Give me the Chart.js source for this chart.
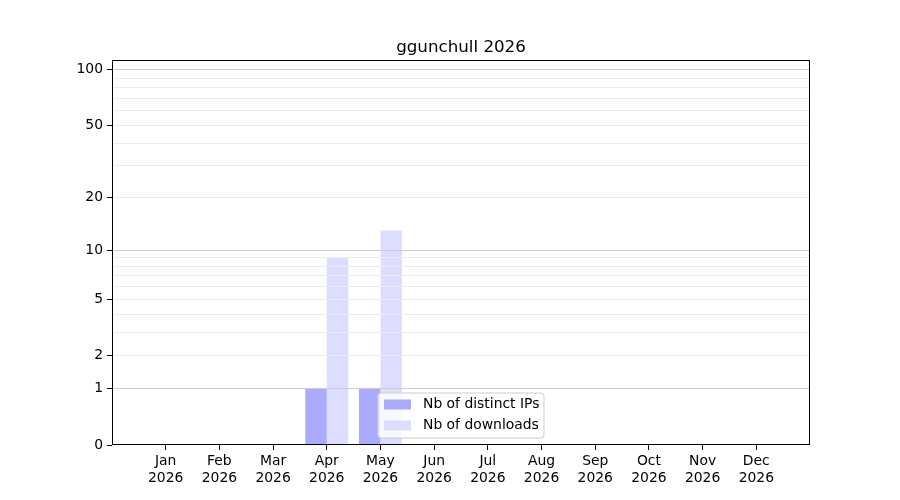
<!DOCTYPE html>
<html>
<head>
<meta charset="utf-8">
<title>ggunchull 2026</title>
<script src="https://cdn.jsdelivr.net/npm/chart.js@4.4.1/dist/chart.umd.min.js"></script>
<style>
  html, body { margin: 0; padding: 0; background: #fff; }
  #wrap { width: 900px; height: 500px; }
</style>
</head>
<body>
<div id="wrap"><canvas id="chart" width="900" height="500"></canvas></div>
<script>
const chartTitle = "ggunchull 2026";
const months = ["Jan", "Feb", "Mar", "Apr", "May", "Jun", "Jul", "Aug", "Sep", "Oct", "Nov", "Dec"];
const year = "2026";
const distinctIps = [0, 0, 0, 1, 1, 0, 0, 0, 0, 0, 0, 0];
const downloads = [0, 0, 0, 9, 13, 0, 0, 0, 0, 0, 0, 0];
const yLabelTicks = [0, 1, 2, 5, 10, 20, 50, 100];
const yMajorGrid = [1, 10, 100];
const yMinorGrid = [2, 3, 4, 5, 6, 7, 8, 9, 20, 30, 40, 50, 60, 70, 80, 90];
const yMax = 113;

const log1p = (v) => Math.log10(1 + v);

// y axis: log10(1 + v), so 0 sits on the bottom and decades above it
class Log1pScale extends Chart.Scale {
  determineDataLimits() {
    this.min = 0;
    this.max = this.options.max;
  }
  buildTicks() {
    const values = Array.from(new Set([...yLabelTicks, ...yMajorGrid, ...yMinorGrid])).sort((a, b) => a - b);
    return values.map((value) => ({ value, major: yMajorGrid.includes(value) }));
  }
  getLabelForValue(value) {
    return String(value);
  }
  configure() {
    super.configure();
    this._startValue = log1p(this.min);
    this._valueRange = log1p(this.max) - log1p(this.min);
  }
  getPixelForValue(value) {
    return this.getPixelForDecimal((log1p(value) - this._startValue) / this._valueRange);
  }
  getValueForPixel(pixel) {
    return Math.pow(10, this._startValue + this.getDecimalForPixel(pixel) * this._valueRange) - 1;
  }
}
Log1pScale.id = "log1p";
Log1pScale.defaults = {};
Chart.register(Log1pScale);

const framePlugin = {
  id: "frameAndLegend",
  afterDraw(chart) {
    const { ctx, chartArea } = chart;
    const l = Math.round(chartArea.left) + 0.5;
    const t = Math.round(chartArea.top) + 0.5;
    const r = Math.round(chartArea.right) - 0.5;
    const b = Math.round(chartArea.bottom) - 0.5;
    ctx.save();
    ctx.strokeStyle = "#000";
    ctx.lineWidth = 1;
    ctx.strokeRect(l, t, r - l, b - t);

    // legend box, placed like matplotlib "best"
    const boxX = chartArea.left + 266;
    const boxY = chartArea.bottom - 52;
    const boxW = 166;
    const boxH = 45;
    const rad = 3;
    ctx.beginPath();
    ctx.moveTo(boxX + rad, boxY);
    ctx.arcTo(boxX + boxW, boxY, boxX + boxW, boxY + boxH, rad);
    ctx.arcTo(boxX + boxW, boxY + boxH, boxX, boxY + boxH, rad);
    ctx.arcTo(boxX, boxY + boxH, boxX, boxY, rad);
    ctx.arcTo(boxX, boxY, boxX + boxW, boxY, rad);
    ctx.closePath();
    ctx.fillStyle = "rgba(255,255,255,0.8)";
    ctx.fill();
    ctx.strokeStyle = "#cccccc";
    ctx.stroke();

    ctx.font = "13.9px 'DejaVu Sans'";
    ctx.textBaseline = "middle";
    ctx.textAlign = "left";
    chart.data.datasets.forEach((ds, i) => {
      const cy = boxY + 11.5 + i * 21;
      ctx.fillStyle = ds.backgroundColor;
      ctx.fillRect(boxX + 6, cy - 5, 27, 10);
      ctx.fillStyle = "#000";
      ctx.fillText(ds.label, boxX + 45, cy);
    });
    ctx.restore();
  }
};

Chart.defaults.font.family = "'DejaVu Sans'";
Chart.defaults.font.size = 13.9;
Chart.defaults.color = "#000";

new Chart(document.getElementById("chart"), {
  type: "bar",
  data: {
    datasets: [
      {
        label: "Nb of distinct IPs",
        data: distinctIps.map((y, x) => ({ x, y })),
        backgroundColor: "#aaaaff",
        borderWidth: 0
      },
      {
        label: "Nb of downloads",
        data: downloads.map((y, x) => ({ x, y })),
        backgroundColor: "#ddddff",
        borderWidth: 0
      }
    ]
  },
  options: {
    responsive: false,
    animation: false,
    categoryPercentage: 0.8,
    barPercentage: 1,
    layout: { padding: { left: 0, right: 90, top: 0, bottom: 0 } },
    plugins: {
      legend: { display: false },
      tooltip: { enabled: false },
      title: {
        display: true,
        fullSize: false,
        text: chartTitle,
        font: { size: 16.7, weight: "normal" },
        color: "#000",
        padding: { top: 38, bottom: 2 }
      }
    },
    scales: {
      x: {
        type: "linear",
        min: -1,
        max: 12,
        offset: false,
        afterFit: (scale) => { scale.height = 55; },
        border: { display: false },
        grid: {
          offset: false,
          drawOnChartArea: false,
          drawTicks: true,
          tickLength: 5,
          tickColor: (ctx) => (ctx.tick && ctx.tick.value >= 0 && ctx.tick.value < months.length ? "#000" : "rgba(0,0,0,0)")
        },
        ticks: {
          stepSize: 1,
          autoSkip: false,
          maxRotation: 0,
          padding: 3,
          callback: (value) => (value >= 0 && value < months.length ? [months[value], year] : "")
        }
      },
      y: {
        type: "log1p",
        max: yMax,
        afterFit: (scale) => { scale.width = 112; },
        border: { display: false },
        grid: {
          z: 1,
          tickLength: 5,
          color: (ctx) => {
            const v = ctx.tick ? ctx.tick.value : 0;
            if (v === 0) return "rgba(0,0,0,0)";
            return yMajorGrid.includes(v) ? "#cccccc" : "#ececec";
          },
          tickColor: (ctx) => (ctx.tick && yLabelTicks.includes(ctx.tick.value) ? "#000" : "rgba(0,0,0,0)")
        },
        ticks: {
          autoSkip: false,
          padding: 4,
          callback: (value) => (yLabelTicks.includes(value) ? String(value) : "")
        }
      }
    }
  },
  plugins: [framePlugin]
});
</script>
</body>
</html>
